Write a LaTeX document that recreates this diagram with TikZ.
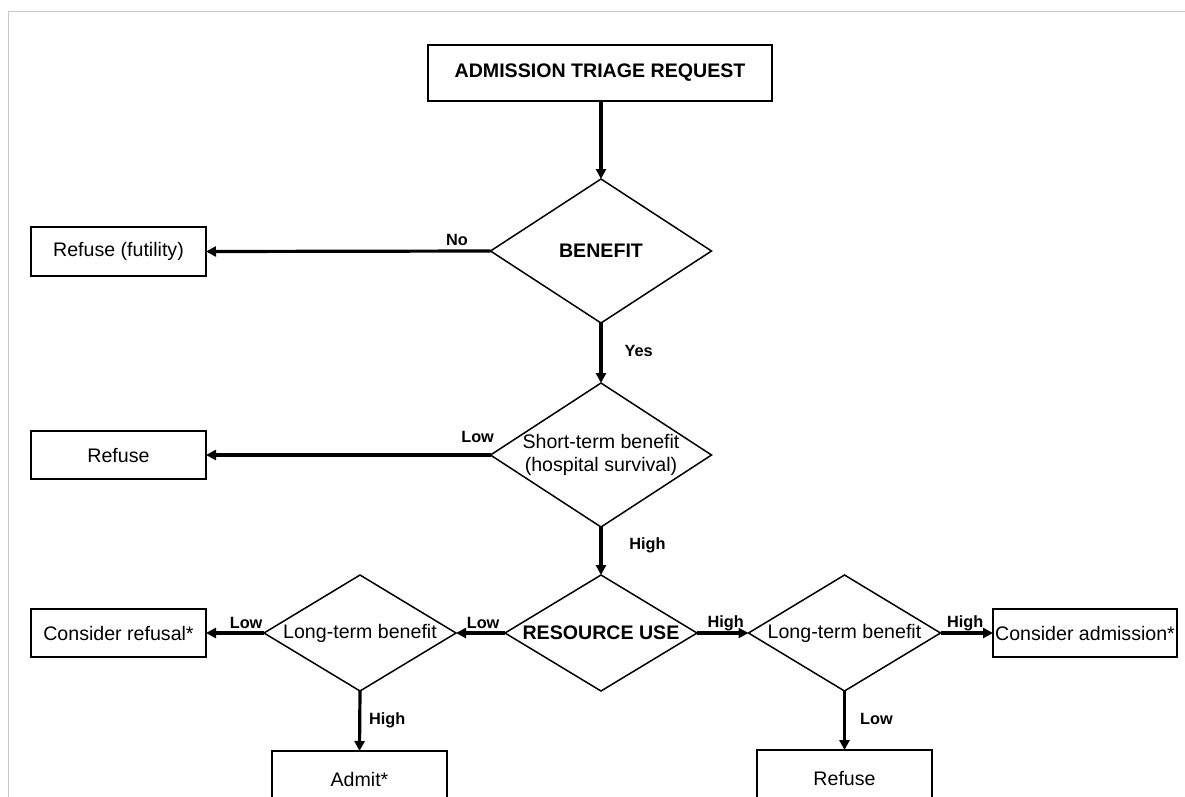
\documentclass[tikz,border=0pt]{standalone}
\usepackage{fontspec}
\setmainfont{Liberation Sans}
\usetikzlibrary{shapes.geometric,arrows.meta}
\definecolor{framegray}{HTML}{C8C8C8}
\tikzset{
  txt/.style={font=\fontsize{19.6}{23}\selectfont},
  boxn/.style={draw, line width=1.7pt, rectangle, inner sep=0pt, outer sep=0pt, txt},
  dia/.style={draw, line width=1.5pt, diamond, inner sep=0pt, outer sep=0pt},
  smalldia/.style={dia, minimum width=192pt, minimum height=116pt},
  bigdia/.style={dia, minimum width=221pt, minimum height=144pt},
  arr/.style={line width=3.2pt, -{Triangle[length=10pt,width=10pt]}},
  lbl/.style={font=\fontsize{16.3}{19}\selectfont\bfseries, inner sep=0pt}
}
\begin{document}
\begin{tikzpicture}[x=1pt,y=-1pt]
\useasboundingbox (0,0) rectangle (1185,796);
\clip (0,0) rectangle (1185,796);
\draw[framegray, line width=1.4pt] (8.5,800) -- (8.5,11.5) -- (1190,11.5);

\node[boxn, minimum width=344pt, minimum height=56pt, font=\fontsize{19.6}{23}\selectfont\bfseries] (req) at (600,73) {ADMISSION TRIAGE REQUEST};
\node[bigdia, label={[font=\fontsize{19.6}{23}\selectfont\bfseries]center:BENEFIT}] (ben) at (601,251) {};
\node[boxn, minimum width=175pt, minimum height=49pt] (rfut) at (118.5,251.5) {Refuse (futility)};
\node[bigdia, label={[txt,align=center]center:Short-term benefit\\(hospital survival)}] (stb) at (601,455) {};
\node[boxn, minimum width=175pt, minimum height=48pt] (ref1) at (118.5,455) {Refuse};
\node[smalldia, label={[font=\fontsize{19.6}{23}\selectfont\bfseries]center:RESOURCE USE}] (res) at (601,633) {};
\node[smalldia, label={[txt]center:Long-term benefit}] (ltl) at (360,633) {};
\node[smalldia, label={[txt]center:Long-term benefit}] (ltr) at (844.5,633) {};
\node[boxn, minimum width=175pt, minimum height=48pt] (cref) at (118.5,633) {Consider refusal*};
\node[boxn, minimum width=184pt, minimum height=48pt] (cadm) at (1085,633) {Consider admission*};
\node[boxn, minimum width=175pt, minimum height=56pt] (admit) at (359.5,779) {Admit*};
\node[boxn, minimum width=175pt, minimum height=56pt] (ref2) at (844.5,778) {Refuse};

\draw[arr] (req.south -| ben.north) -- (ben.north);
\draw[arr] (ben.west) -- node[lbl, pos=0, anchor=base east, xshift=-21pt, yshift=6pt] {No} (rfut.east);
\draw[arr] (ben.south) -- node[lbl, pos=0.559, anchor=base west, xshift=22pt] {Yes} (stb.north);
\draw[arr] (stb.west) -- node[lbl, pos=0, anchor=base east, xshift=5pt, yshift=12.5pt] {Low} (ref1.east);
\draw[arr] (stb.south) -- node[lbl, pos=0.467, anchor=base west, xshift=26.7pt] {High} (res.north);
\draw[arr] (res.west) -- node[lbl, pos=0, anchor=base east, xshift=-4pt, yshift=5pt] {Low} (ltl.east);
\draw[arr] (res.east) -- node[lbl, pos=0, anchor=base west, xshift=9pt, yshift=6pt] {High} (ltr.west);
\draw[arr] (ltl.west) -- node[lbl, pos=0, anchor=base east, xshift=0pt, yshift=5pt] {Low} (cref.east);
\draw[arr] (ltr.east) -- node[lbl, pos=0, anchor=base west, xshift=5pt, yshift=6pt] {High} (cadm.west);
\draw[arr] (ltl.south) -- node[lbl, pos=0.55, anchor=base west, xshift=7.7pt] {High} (admit.north);
\draw[arr] (ltr.south) -- node[lbl, pos=0.56, anchor=base west, xshift=14pt] {Low} (ref2.north);
\end{tikzpicture}
\end{document}
